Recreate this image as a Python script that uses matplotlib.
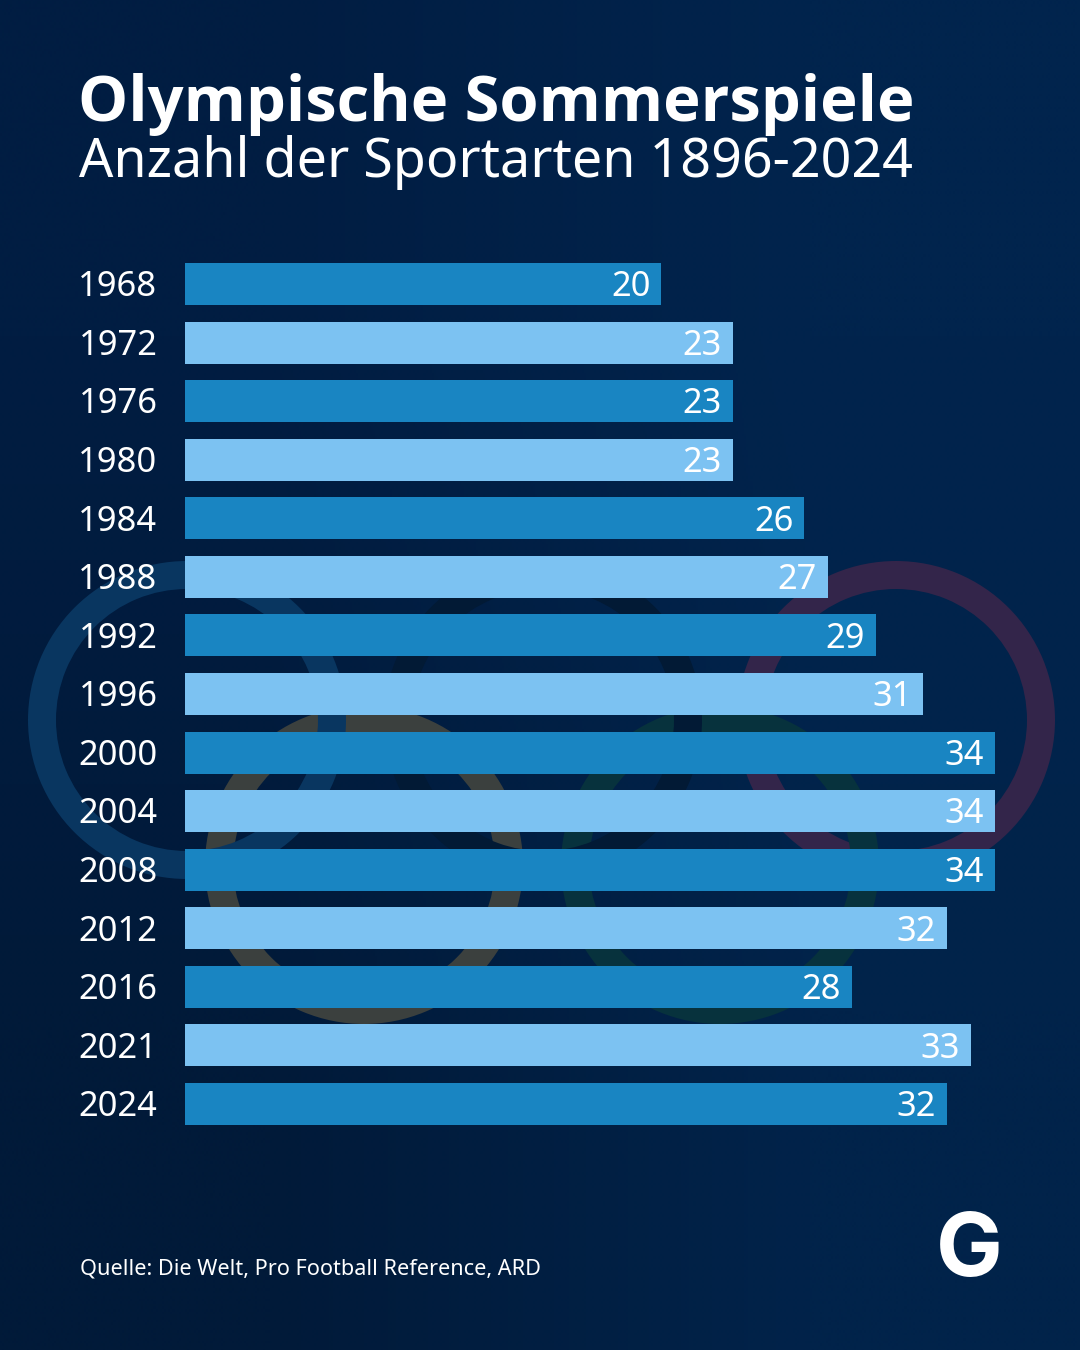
import numpy as np
import matplotlib
matplotlib.use("Agg")
import matplotlib.pyplot as plt
from matplotlib.patches import Annulus, Wedge
from matplotlib.colors import to_rgb

years = ["1968", "1972", "1976", "1980", "1984", "1988", "1992", "1996",
         "2000", "2004", "2008", "2012", "2016", "2021", "2024"]
sports = [20, 23, 23, 23, 26, 27, 29, 31, 34, 34, 34, 32, 28, 33, 32]
title = "Olympische Sommerspiele"
subtitle = "Anzahl der Sportarten 1896-2024"
source = "Quelle: Die Welt, Pro Football Reference, ARD"
logo = "G"

W, H = 1080, 1350
DARK, LIGHT = "#1985c2", "#7cc2f2"
FONT = "Noto Sans"
px = 0.72
plt.rcParams["font.family"] = [FONT, "DejaVu Sans"]

fig = plt.figure(figsize=(W / 100, H / 100), dpi=100)

# background + rings, in pixel coordinates
bg = fig.add_axes([0, 0, 1, 1])
bg.set_xlim(0, W)
bg.set_ylim(H, 0)
bg.axis("off")
corners = np.array([[to_rgb("#011d42"), to_rgb("#01244d")],
                    [to_rgb("#011a39"), to_rgb("#01234a")]])
bg.imshow(corners, extent=[0, W, H, 0], aspect="auto", interpolation="bilinear", zorder=0)
bg.set_xlim(0, W)
bg.set_ylim(H, 0)
RED, GREEN, BLACK, YELLOW, BLUE = "#33254a", "#07323d", "#021a35", "#3b403e", "#093660"
rings = [((896, 720), RED, 1), ((720, 865), GREEN, 2), ((543, 720), BLACK, 3),
         ((364, 865), YELLOW, 4), ((187, 720), BLUE, 5)]
for c, col, z in rings:
    bg.add_patch(Annulus(c, 159, 28, facecolor=col, edgecolor="none", zorder=z))
# the black ring's lower arc passes over the yellow ring
bg.add_patch(Wedge((543, 720), 159, 90, 130, width=28, facecolor=BLACK, edgecolor="none", zorder=6))

# bars
ax = fig.add_axes([185 / W, 1 - 1154 / H, (1080 - 185) / W, (1154 - 234) / H])
ax.patch.set_alpha(0)
pos = np.arange(len(years))
ax.set_ylim(14 + (1154 - 1104) / 58.57, -(284 - 234) / 58.57)
ax.set_xlim(0, (1080 - 185) / 23.82)
colors = [DARK if i % 2 == 0 else LIGHT for i in pos]
ax.barh(pos, sports, height=42 / 58.57, color=colors, linewidth=0)
for p, v, y in zip(pos, sports, years):
    ax.annotate(str(v), (v, p), xytext=(-11 * px, 0.7 * px), textcoords="offset points",
                ha="right", va="center_baseline", color="white", fontsize=34.5 * px)
    fig.text(157.5 / W, 1 - (283.3 + p * 58.57) / H, y, ha="right", va="center_baseline",
             color="white", fontsize=34.5 * px)
ax.axis("off")

fig.text(78.5 / W, 1 - 121.5 / H, title, color="white", fontsize=63.2 * px, fontweight="bold",
         family="Open Sans", va="baseline")
fig.text(79 / W, 1 - 177 / H, subtitle, color="white", fontsize=53.8 * px, va="baseline")
fig.text(79.5 / W, 1 - 1275 / H, source, color="white", fontsize=21.7 * px, va="baseline")
fig.text(969 / W, 1 - 1276 / H, logo, color="white", fontsize=89 * px, fontweight="bold",
         family="Inter", ha="center", va="baseline")

fig.savefig("out.png", dpi=100)
